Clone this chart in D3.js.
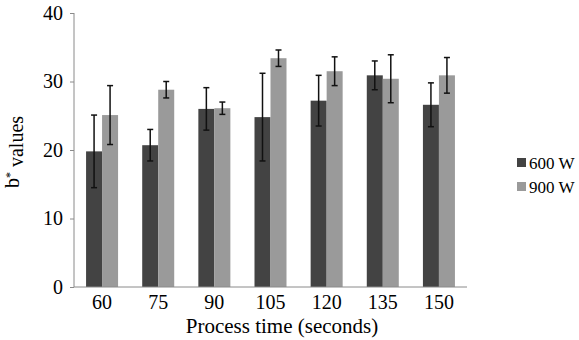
<!DOCTYPE html>
<html>
<head>
<meta charset="utf-8">
<script src="https://cdn.jsdelivr.net/npm/d3@7"></script>
<style>
  body { margin: 0; background: #fff; }
  svg text { font-family: "Liberation Serif", "DejaVu Serif", "Times New Roman", serif; fill: #000; }
</style>
</head>
<body>
<div id="chart"></div>
<script>
// Process time categories (seconds)
var categories = ["60", "75", "90", "105", "120", "135", "150"];
var seriesNames = ["600 W", "900 W"];
var values600 = [19.8, 20.7, 26.0, 24.8, 27.2, 30.9, 26.6];
var errors600 = [5.3, 2.3, 3.1, 6.4, 3.7, 2.1, 3.2];
var values900 = [25.1, 28.8, 26.1, 33.4, 31.5, 30.4, 30.9];
var errors900 = [4.3, 1.2, 0.9, 1.2, 2.1, 3.5, 2.6];
var yTicks = [0, 10, 20, 30, 40];

var width = 579, height = 340;
var margin = {top: 13, right: 112, bottom: 53, left: 74};
var innerW = width - margin.left - margin.right;
var innerH = height - margin.top - margin.bottom;
var serif = "'Liberation Serif', 'DejaVu Serif', serif";

var color = d3.scaleOrdinal().domain(seriesNames).range(["#434343", "#9a9a9a"]);

var data = categories.map(function(c, i) {
	return {
		cat: c,
		bars: [
			{name: seriesNames[0], value: values600[i], err: errors600[i]},
			{name: seriesNames[1], value: values900[i], err: errors900[i]}
		]
	};
});

var xScale = d3.scaleBand().domain(categories).range([0, innerW]).paddingInner(0.43).paddingOuter(0.215);
var xSub = d3.scaleBand().domain(seriesNames).range([0, xScale.bandwidth()]);
var yScale = d3.scaleLinear().domain([0, 40]).range([innerH, 0]);

var svg = d3.select("#chart").append("svg")
		.attr("width", width)
		.attr("height", height);

var g = svg.append("g")
		.attr("transform", "translate(" + margin.left + "," + margin.top + ")");

// Bars
var groups = g.selectAll(".group")
	.data(data)
	.enter().append("g")
		.attr("class", "group")
		.attr("transform", function(d) { return "translate(" + xScale(d.cat) + ",0)"; });

groups.selectAll("rect")
	.data(function(d) { return d.bars; })
	.enter().append("rect")
		.attr("x", function(d) { return xSub(d.name); })
		.attr("y", function(d) { return yScale(d.value); })
		.attr("width", xSub.bandwidth())
		.attr("height", function(d) { return innerH - yScale(d.value); })
		.style("fill", function(d) { return color(d.name); });

// Error bars
var errs = groups.selectAll(".err")
	.data(function(d) { return d.bars; })
	.enter().append("g")
		.attr("class", "err")
		.attr("transform", function(d) { return "translate(" + (xSub(d.name) + xSub.bandwidth() / 2) + ",0)"; });

errs.append("line")
		.attr("x1", 0).attr("x2", 0)
		.attr("y1", function(d) { return yScale(d.value + d.err); })
		.attr("y2", function(d) { return yScale(d.value - d.err); });
errs.append("line")
		.attr("x1", -3).attr("x2", 3)
		.attr("y1", function(d) { return yScale(d.value + d.err); })
		.attr("y2", function(d) { return yScale(d.value + d.err); });
errs.append("line")
		.attr("x1", -3).attr("x2", 3)
		.attr("y1", function(d) { return yScale(d.value - d.err); })
		.attr("y2", function(d) { return yScale(d.value - d.err); });
errs.selectAll("line")
		.style("stroke", "#111")
		.style("stroke-width", 1.5);

// Axes
var yAxis = d3.axisLeft(yScale).tickValues(yTicks).tickSize(4).tickPadding(7);
var yG = g.append("g").attr("class", "y axis").call(yAxis);
yG.attr("font-family", null).attr("font-size", null);
yG.selectAll("line, path").style("stroke", "#8a8a8a");
yG.select(".domain").attr("d", "M0," + innerH + "V0");
yG.selectAll("text").style("font-size", "20px").style("font-family", serif);

var xAxis = d3.axisBottom(xScale).tickSize(0).tickPadding(8);
var xG = g.append("g").attr("class", "x axis")
		.attr("transform", "translate(0," + innerH + ")")
		.call(xAxis);
xG.attr("font-family", null).attr("font-size", null);
xG.select(".domain").attr("d", "M0,0H" + innerW).style("stroke", "#8a8a8a");
xG.selectAll("text").style("font-size", "20px").style("font-family", serif);

// Axis titles
svg.append("text")
		.attr("x", 282)
		.attr("y", 333)
		.attr("text-anchor", "middle")
		.style("font-size", "21px")
		.style("font-family", serif)
		.text("Process time (seconds)");

var yTitle = svg.append("text")
		.attr("transform", "translate(19," + 152 + ") rotate(-90)")
		.attr("text-anchor", "middle")
		.style("font-size", "20px")
		.style("font-family", serif);
yTitle.append("tspan").text("b");
yTitle.append("tspan").attr("dy", "-0.45em").style("font-size", "12px").text("*");
yTitle.append("tspan").attr("dy", "0.45em").text(" values");

// Legend
var legend = svg.append("g").attr("transform", "translate(517,163)");
var items = legend.selectAll(".legend-item")
	.data(seriesNames)
	.enter().append("g")
		.attr("class", "legend-item")
		.attr("transform", function(d, i) { return "translate(0," + i * 24 + ")"; });
items.append("rect")
		.attr("x", 0).attr("y", -5)
		.attr("width", 9).attr("height", 9)
		.style("fill", function(d) { return color(d); });
items.append("text")
		.attr("x", 12)
		.attr("y", 0)
		.attr("dy", "0.35em")
		.style("font-size", "17px")
		.style("font-family", serif)
		.text(function(d) { return d; });
</script>
</body>
</html>
